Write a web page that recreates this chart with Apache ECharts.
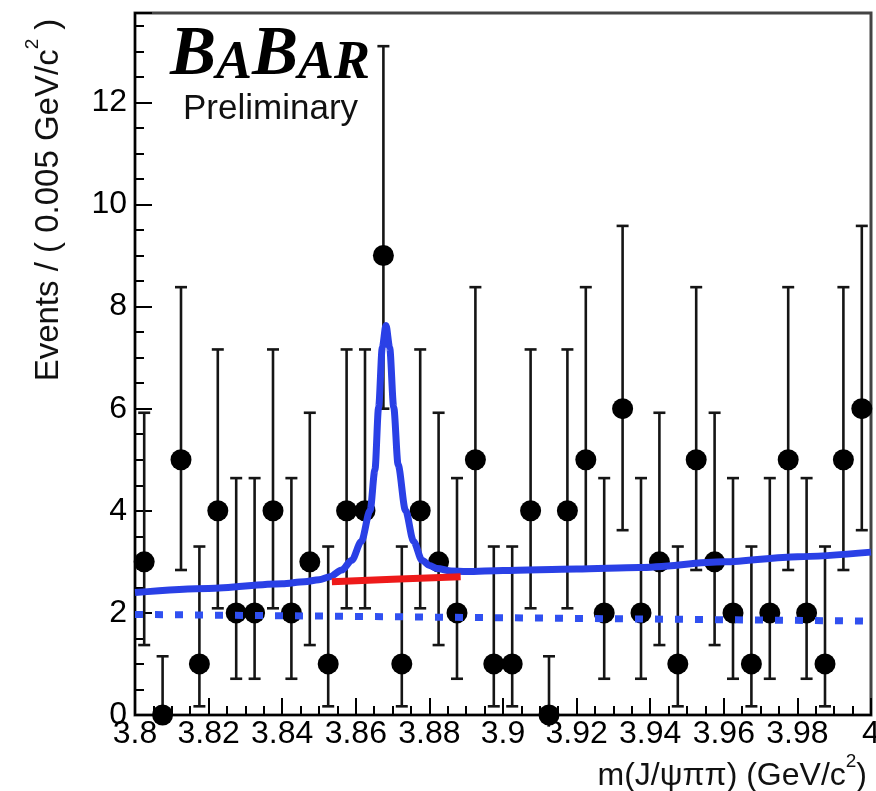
<!DOCTYPE html>
<html><head><meta charset="utf-8">
<script src="https://cdn.jsdelivr.net/npm/echarts@6/dist/echarts.min.js"></script>
<style>html,body{margin:0;padding:0;background:#fff;overflow:hidden}#c{width:876px;height:791px}</style>
</head><body><div id="c"></div>
<script>
// ---- data ----
const binCenters = [3.8025,3.8075,3.8125,3.8175,3.8225,3.8275,3.8325,3.8375,3.8425,3.8475,
  3.8525,3.8575,3.8625,3.8675,3.8725,3.8775,3.8825,3.8875,3.8925,3.8975,
  3.9025,3.9075,3.9125,3.9175,3.9225,3.9275,3.9325,3.9375,3.9425,3.9475,
  3.9525,3.9575,3.9625,3.9675,3.9725,3.9775,3.9825,3.9875,3.9925,3.9975];
const counts = [3,0,5,1,4,2,2,4,2,3, 1,4,4,9,1,4,3,2,5,1, 1,4,0,4,5,2,6,2,3,1, 5,3,2,1,2,5,2,1,5,6];
const errLow = [1.37,0,2.84,0.17,2.09,0.71,0.71,2.09,0.71,1.37, 0.17,2.09,2.09,6.0,0.17,2.09,1.37,0.71,2.84,0.17,
  0.17,2.09,0,2.09,2.84,0.71,3.62,0.71,1.37,0.17, 2.84,1.37,0.71,0.17,0.71,2.84,0.71,0.17,2.84,3.62];
const errHigh = [5.92,1.15,8.38,3.3,7.16,4.64,4.64,7.16,4.64,5.92, 3.3,7.16,7.16,13.1,3.3,7.16,5.92,4.64,8.38,3.3,
  3.3,7.16,1.15,7.16,8.38,4.64,9.58,4.64,5.92,3.3, 8.38,5.92,4.64,3.3,4.64,8.38,4.64,3.3,8.38,9.58];
// total fit (blue)
const fitX = [3.800,3.820,3.840,3.846,3.850,3.853,3.8562,3.8589,3.8615,3.8639,3.8652,3.8662,3.8672,3.8682,3.8692,3.8703,3.8715,3.8735,3.8757,3.8780,3.8800,3.8821,3.8860,3.890,3.900,3.920,3.937,3.960,3.980,4.000];
const fitY = [2.40,2.48,2.57,2.61,2.65,2.71,2.84,3.03,3.40,4.01,4.80,6.03,7.20,7.63,7.20,6.03,4.90,4.01,3.40,3.03,2.93,2.87,2.82,2.81,2.83,2.86,2.89,3.00,3.10,3.19];
// background under signal (red)
const bkgRedX = [3.8535,3.870,3.8885];
const bkgRedY = [2.61,2.66,2.71];
// dashed component
const dashX = [3.800,4.000];
const dashY = [1.97,1.84];
const xTicks = {min:3.8,max:4.0,step:0.02};
const yTicks = {min:0,max:13.75,step:2};

const zip = (a,b)=>a.map((v,i)=>[v,b[i]]);
const chart = echarts.init(document.getElementById('c'), null, {renderer:'canvas'});
const font = 'Liberation Sans, Arial, Helvetica, sans-serif';
const blue = '#2a40e6';

chart.setOption({
  animation:false,
  backgroundColor:'#fff',
  grid:{left:135,right:5,top:13,bottom:76,outerBoundsMode:'none',containLabel:false,show:true,borderColor:'#444',borderWidth:3,backgroundColor:'transparent'},
  xAxis:{type:'value',min:xTicks.min,max:xTicks.max,interval:xTicks.step,
    axisLine:{show:true,onZero:false,lineStyle:{color:'#000',width:2}},
    axisTick:{show:true,inside:true,length:17,lineStyle:{color:'#000',width:2}},
    minorTick:{show:true,splitNumber:4,length:9,lineStyle:{color:'#000',width:2}},
    splitLine:{show:false},minorSplitLine:{show:false},
    axisLabel:{show:true,showMinLabel:true,showMaxLabel:true,hideOverlap:false,fontFamily:font,fontSize:32,color:'#000',margin:3,
      formatter:v=>String(+(+v).toFixed(3))}},
  yAxis:{type:'value',min:yTicks.min,max:yTicks.max,interval:yTicks.step,
    axisLine:{show:true,onZero:false,lineStyle:{color:'#000',width:2}},
    axisTick:{show:true,inside:true,length:17,lineStyle:{color:'#000',width:2}},
    minorTick:{show:true,splitNumber:4,length:9,lineStyle:{color:'#000',width:2}},
    splitLine:{show:false},
    axisLabel:{show:true,fontFamily:font,fontSize:32,color:'#000',margin:8,
      formatter:v=>(Math.abs(v/2-Math.round(v/2))<1e-6 && v<=12.01)?String(Math.round(v)):''}},
  graphic:[
    {type:'text',left:170,top:22,z:100,style:{text:'{b|B}{s|A}{b|B}{s|AR}',rich:{
      b:{fontFamily:'Liberation Serif, Times New Roman, serif',fontStyle:'italic',fontWeight:'bold',fontSize:69,fill:'#000',verticalAlign:'bottom',lineHeight:70},
      s:{fontFamily:'Liberation Serif, Times New Roman, serif',fontStyle:'italic',fontWeight:'bold',fontSize:54,fill:'#000',verticalAlign:'bottom',lineHeight:70}}}},
    {type:'text',left:183,top:92,z:100,style:{text:'Preliminary',fontFamily:font,fontSize:35,fill:'#111'}},
    {type:'text',x:44,y:200,rotation:Math.PI/2,z:100,style:{text:'{n|Events / ( 0.005 GeV/c}{sup|2}{n| )}',align:'center',verticalAlign:'middle',rich:{
      n:{fontFamily:font,fontSize:33,fill:'#111',lineHeight:42,verticalAlign:'bottom'},
      sup:{fontFamily:font,fontSize:19,fill:'#111',lineHeight:42,verticalAlign:'top'}}}},
    {type:'text',right:9,top:752,z:100,style:{text:'{n|m(J/ψππ) (GeV/c}{sup|2}{n|)}',rich:{
      n:{fontFamily:font,fontSize:32,fill:'#111',lineHeight:40,verticalAlign:'bottom'},
      sup:{fontFamily:font,fontSize:19,fill:'#111',lineHeight:40,verticalAlign:'top'}}}}
  ],
  series:[
    {type:'custom',name:'err',z:2,
      data:binCenters.map((x,i)=>[x,errLow[i],errHigh[i]]),
      encode:{x:0,y:[1,2]},
      renderItem:function(params,api){
        const x=api.value(0),lo=api.value(1),hi=api.value(2);
        const pH=api.coord([x,hi]),pL=api.coord([x,lo]);
        const st={stroke:'#151515',lineWidth:2.6};
        return {type:'group',children:[
          {type:'line',shape:{x1:pH[0],y1:pH[1],x2:pL[0],y2:pL[1]},style:st},
          {type:'line',shape:{x1:pH[0]-6,y1:pH[1],x2:pH[0]+6,y2:pH[1]},style:st},
          {type:'line',shape:{x1:pL[0]-6,y1:pL[1],x2:pL[0]+6,y2:pL[1]},style:st}
        ]};
      }},
    {type:'scatter',z:3,symbol:'circle',symbolSize:21,itemStyle:{color:'#000',opacity:1},data:zip(binCenters,counts)},
    {type:'line',z:4,data:zip(dashX,dashY),showSymbol:false,symbol:'none',lineStyle:{color:'#3050f0',width:7,type:[8,12]}},
    {type:'line',z:5,data:zip(fitX,fitY),showSymbol:false,symbol:'none',smooth:0.3,smoothMonotone:'x',lineStyle:{color:blue,width:7,join:'round'}},
    {type:'line',z:6,data:zip(bkgRedX,bkgRedY),showSymbol:false,symbol:'none',lineStyle:{color:'#ee1a1a',width:7}}
  ]
});
</script></body></html>
